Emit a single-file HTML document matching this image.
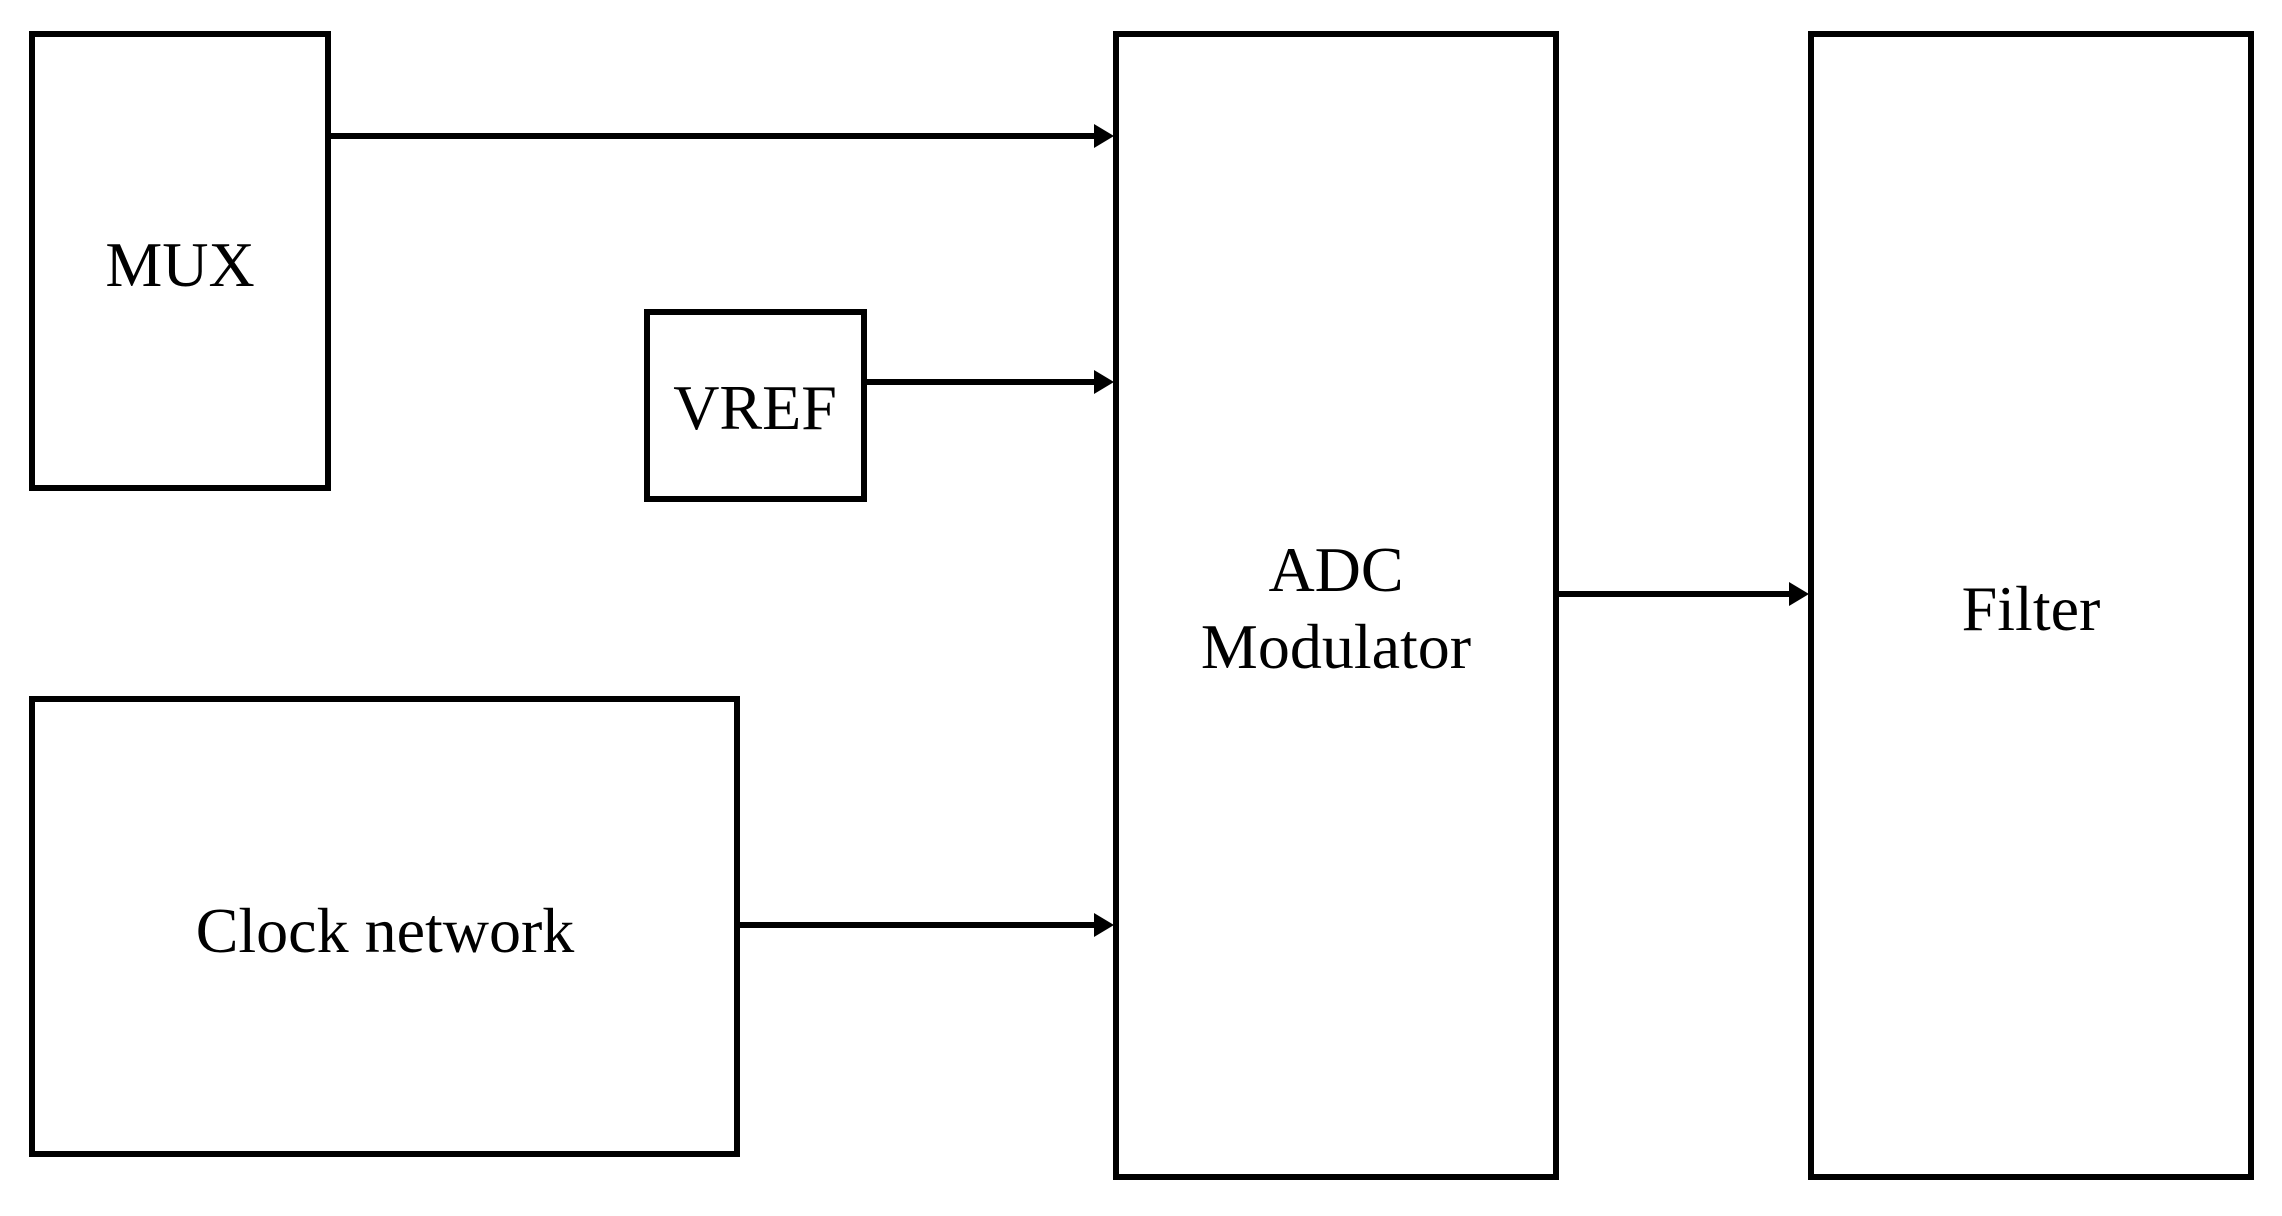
<!DOCTYPE html>
<html><head><meta charset="utf-8"><style>
html,body{margin:0;padding:0;background:#fff;}
svg{display:block;}
text{font-family:"Liberation Serif","Times New Roman",serif;font-size:64px;fill:#000;text-anchor:middle;}
</style></head><body>
<svg width="2282" height="1216" viewBox="0 0 2282 1216" xmlns="http://www.w3.org/2000/svg">
<g fill="none" stroke="#000" stroke-width="6">
<rect x="32" y="34" width="296" height="454"/>
<rect x="647" y="312" width="217" height="187"/>
<rect x="32" y="699" width="705" height="455"/>
<rect x="1116" y="34" width="440" height="1143"/>
<rect x="1811" y="34" width="440" height="1143"/>
</g>
<g stroke="#000" stroke-width="6">
<line x1="330" y1="136" x2="1096" y2="136"/>
<line x1="866" y1="382" x2="1096" y2="382"/>
<line x1="739" y1="925" x2="1096" y2="925"/>
<line x1="1558" y1="594" x2="1791" y2="594"/>
</g>
<g fill="#000">
<polygon points="1094,124 1114,136 1094,148"/>
<polygon points="1094,370 1114,382 1094,394"/>
<polygon points="1094,913 1114,925 1094,937"/>
<polygon points="1789,582 1809,594 1789,606"/>
</g>
<text x="180" y="286">MUX</text>
<text x="755" y="429">VREF</text>
<text x="385" y="952">Clock network</text>
<text x="1336" y="591">ADC</text>
<text x="1336" y="668">Modulator</text>
<text x="2031" y="630">Filter</text>
</svg>
</body></html>
